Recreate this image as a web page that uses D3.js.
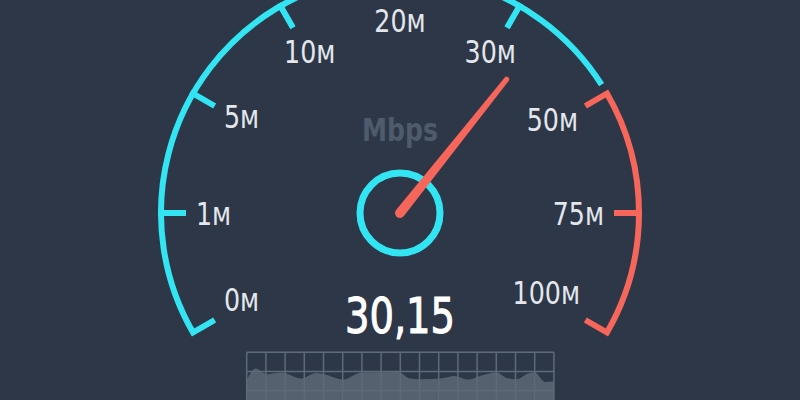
<!DOCTYPE html>
<html>
<head>
<meta charset="utf-8">
<script src="https://cdn.jsdelivr.net/npm/d3@7"></script>
<style>
  body { margin: 0; background: #2d3748; }
  svg { display: block; }
</style>
</head>
<body>
<div id="chart"></div>
<script>
// Gauge scale (labels are not evenly spaced in value, but are evenly spaced on the dial)
const tickValues = [0, 1, 5, 10, 20, 30, 50, 75, 100];
const tickLabels = ['0м', '1м', '5м', '10м', '20м', '30м', '50м', '75м', '100м'];
const dangerFrom = 50;
const needleValue = 35.7;
const readout = '30,15';
const unitLabel = 'Mbps';

// Speed history under the gauge (time 0..100, speed)
const historyTime = [0, 2.9, 6.5, 11.4, 17.7, 22.6, 25.5, 31.4, 37.4, 49.3, 53.1, 56.4, 62.9, 67.8, 72.0, 75.9, 81.4, 84.6, 87.9, 91.6, 93.8, 97.1, 100];
const historySpeed = [20, 31.7, 26, 27.7, 21.7, 27.3, 25.7, 20.7, 27.7, 28.3, 21.7, 21, 21.7, 24.3, 20.7, 24.3, 27.7, 22.3, 21, 26.7, 27.7, 18.3, 19];

const width = 800, height = 400;
const cx = 400, cy = 213, R = 239;
const cyan = '#33e4f2', red = '#f6665a';
const font = '"DejaVu Sans Condensed", "Liberation Sans Narrow", sans-serif';
const rad = Math.PI / 180;

const svg = d3.select('#chart')
  .append('svg')
  .attr('width', width)
  .attr('height', height);

// squeeze text horizontally so the wide fallback font matches the narrow original
function squeeze(sel, k) {
  sel.each(function () {
    const w = this.getComputedTextLength();
    d3.select(this)
      .attr('textLength', w * k)
      .attr('lengthAdjust', 'spacingAndGlyphs');
  });
}

// value -> dial angle in degrees (math convention, counter-clockwise from +x)
const angle = d3.scaleLinear()
  .domain(tickValues)
  .range(tickValues.map((d, i) => 210 - i * 240 / (tickValues.length - 1)));

const pt = (a, r) => [cx + r * Math.cos(a * rad), cy - r * Math.sin(a * rad)];

// ---- speed history panel ----
const x = d3.scaleLinear().domain([0, 100]).range([246.7, 553.9]);
const y = d3.scaleLinear().domain([0, 48]).range([400.3, 352.3]);

const area = d3.area()
  .x((d, i) => x(historyTime[i]))
  .y0(y(0))
  .y1(d => y(d))
  .curve(d3.curveMonotoneX);

svg.append('path')
  .datum(historySpeed)
  .attr('d', area)
  .attr('fill', '#56616f');

const grid = svg.append('g')
  .attr('stroke', '#5f6a79')
  .attr('stroke-width', 1.5);

grid.selectAll('line.v')
  .data(d3.range(0, 100.01, 100 / 16))
  .enter()
  .append('line')
  .attr('class', 'v')
  .attr('x1', d => x(d)).attr('x2', d => x(d))
  .attr('y1', y(48)).attr('y2', y(0));

grid.selectAll('line.h')
  .data(d3.range(48, -1, -19.2))
  .enter()
  .append('line')
  .attr('class', 'h')
  .attr('x1', x(0)).attr('x2', x(100))
  .attr('y1', d => y(d)).attr('y2', d => y(d));

// ---- dial arcs ----
const tickLen = 22;

const safe = d3.path();
safe.moveTo(...pt(angle(0), R - tickLen - 3));
safe.lineTo(...pt(angle(0), R));
safe.arc(cx, cy, R, -angle(0) * rad, -(angle(dangerFrom) + 2.5) * rad, false);

const danger = d3.path();
danger.moveTo(...pt(angle(dangerFrom), R - tickLen - 3));
danger.lineTo(...pt(angle(dangerFrom), R));
danger.arc(cx, cy, R, -angle(dangerFrom) * rad, -angle(100) * rad, false);
danger.lineTo(...pt(angle(100), R - tickLen - 3));

svg.append('path')
  .attr('d', safe.toString())
  .attr('fill', 'none')
  .attr('stroke', cyan)
  .attr('stroke-width', 6)
  .attr('stroke-linejoin', 'miter');

svg.append('path')
  .attr('d', danger.toString())
  .attr('fill', 'none')
  .attr('stroke', red)
  .attr('stroke-width', 6)
  .attr('stroke-linejoin', 'miter');

// inner ticks
svg.append('g')
  .selectAll('line')
  .data(tickValues.filter(d => d !== 0 && d !== dangerFrom && d !== 100))
  .enter()
  .append('line')
  .attr('x1', d => pt(angle(d), R)[0])
  .attr('y1', d => pt(angle(d), R)[1])
  .attr('x2', d => pt(angle(d), R - tickLen)[0])
  .attr('y2', d => pt(angle(d), R - tickLen)[1])
  .attr('stroke', d => d >= dangerFrom ? red : cyan)
  .attr('stroke-width', 6)
  .attr('stroke-linecap', 'square');

// labels: keep the outer corner of each label box on a circle
const labelR = 204, capH = 23;
const labels = svg.append('g')
  .attr('font-family', font)
  .attr('font-size', 32)
  .attr('fill', '#e3e7ec')
  .attr('text-anchor', 'middle');

labels.selectAll('text')
  .data(tickValues)
  .enter()
  .append('text')
  .text((d, i) => tickLabels[i])
  .call(squeeze, 0.88)
  .each(function (d) {
    const a = angle(d) * rad;
    const ux = Math.cos(a), uy = -Math.sin(a);
    const w = +d3.select(this).attr('textLength');
    const ox = Math.abs(ux) < 0.1 ? 0 : Math.sign(ux) * w / 2;
    const oy = Math.abs(uy) < 0.1 ? 0 : Math.sign(uy) * capH / 2;
    const dot = ux * ox + uy * oy;
    const t = -dot + Math.sqrt(dot * dot - (ox * ox + oy * oy) + labelR * labelR);
    // diagonal labels sit a little higher in the original
    const lift = 6 * Math.abs(Math.sin(2 * a));
    d3.select(this)
      .attr('x', cx + t * ux)
      .attr('y', cy + t * uy + capH / 2 - lift);
  });

// unit
svg.append('text')
  .attr('x', cx)
  .attr('y', 141)
  .attr('text-anchor', 'middle')
  .attr('font-family', font)
  .attr('font-weight', 'bold')
  .attr('font-size', 32)
  .attr('fill', '#4e5b6b')
  .text(unitLabel)
  .attr('textLength', 76)
  .attr('lengthAdjust', 'spacingAndGlyphs');

// center ring
svg.append('circle')
  .attr('cx', cx)
  .attr('cy', cy)
  .attr('r', 40)
  .attr('fill', 'none')
  .attr('stroke', cyan)
  .attr('stroke-width', 7);

// needle (tapered, rounded ends)
const needleLen = 171, baseW = 5, tipW = 2.6;
const needle = d3.path();
needle.moveTo(0, -baseW);
needle.lineTo(needleLen, -tipW);
needle.arc(needleLen, 0, tipW, -Math.PI / 2, Math.PI / 2, false);
needle.lineTo(0, baseW);
needle.arc(0, 0, baseW, Math.PI / 2, Math.PI * 1.5, false);
needle.closePath();

svg.append('path')
  .attr('d', needle.toString())
  .attr('fill', red)
  .attr('transform', `translate(${cx},${cy}) rotate(${-angle(needleValue)})`);

// readout
svg.append('text')
  .attr('x', cx)
  .attr('y', 333)
  .attr('text-anchor', 'middle')
  .attr('font-family', font)
  .attr('font-size', 50)
  .attr('fill', '#ffffff')
  .attr('stroke', '#ffffff')
  .attr('stroke-width', 1)
  .text(readout)
  .attr('textLength', 110)
  .attr('lengthAdjust', 'spacingAndGlyphs');
</script>
</body>
</html>
